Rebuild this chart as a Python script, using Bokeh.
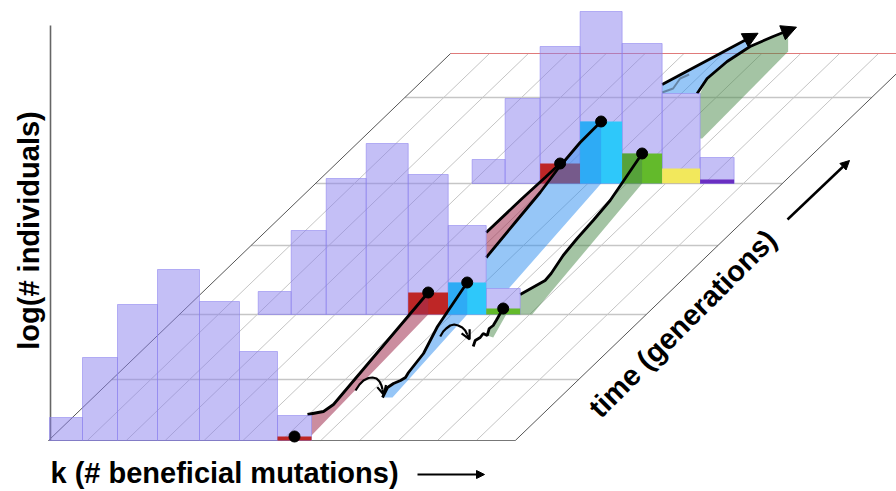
import math
from bokeh.plotting import figure
from bokeh.models import Range1d, Arrow, NormalHead, OpenHead
from bokeh.embed import file_html
from bokeh.resources import INLINE
from bokeh.core.properties import value

# ---------------- data ----------------
time_levels = [0, 61, 126, 195, 257, 343, 387]      # floor grid lines along time
gen_times = [0, 126, 257]                            # the three sampled generations
gen_first_k = [0, 2, 4]                              # lowest k class present
hist_gen0 = [23, 83, 136, 171, 139, 89, 25]          # log(# individuals) per k class
hist_gen1 = [23, 84, 136, 171, 140, 89, 26]
hist_gen2 = [24, 85, 137, 172, 140, 90, 26]
sub_k = [6, 7, 8, 9, 10]                             # lineages: red, cyan, green, yellow, purple
sub_gen0 = [4, 0, 0, 0, 0]
sub_gen1 = [22, 32, 6, 0, 0]
sub_gen2 = [20, 62, 30, 15, 4]
n_k = 12
x_label = "k (# beneficial mutations)"
y_label = "log(# individuals)"
t_label = "time (generations)"

hists = [hist_gen0, hist_gen1, hist_gen2]
subs = [sub_gen0, sub_gen1, sub_gen2]

# ---------------- style / geometry ----------------
W, H = 896, 491
X0, Y0 = 48, 440          # front-left corner of the floor
BIN = 38.9                # floor width of one k class
SKEW = 1.039              # oblique projection of time
BAR_EDGES = [0, 33, 68, 108, 150, 190, 228, 262]
SUB_COLORS = ["#be2626", "#2ec8fa", "#63ba2b", "#f2e85c", "#6a2fc2"]
LAV = "#8a80ee"
PINK, BLUE, GREEN = "#a03050", "#2e8ef0", "#4a8a4a"
FONT = value("Liberation Sans")
T_END = time_levels[-1]
LW = 2.8


def fx(k, t):
    return X0 + k * BIN + t * SKEW


def fy(t):
    return Y0 - t


def hist_geom(g):
    start = fx(gen_first_k[g], gen_times[g]) + 1
    return [start + e for e in BAR_EDGES], fy(gen_times[g])


def dot(g, s):
    e, b = hist_geom(g)
    i = sub_k[s] - gen_first_k[g]
    return ((e[i] + e[i + 1]) / 2, b - subs[g][s])


def add(pt, d):
    return (pt[0] + d[0], pt[1] + d[1])


def xs(pts):
    return [q[0] for q in pts]


def ys(pts):
    return [q[1] for q in pts]


p = figure(width=W, height=H, x_range=Range1d(0, W), y_range=Range1d(H, 0),
           toolbar_location=None, output_backend="svg",
           x_axis_location=None, y_axis_location=None, min_border=0,
           outline_line_color=None, background_fill_color="white",
           border_fill_color="white")
p.xgrid.grid_line_color = None
p.ygrid.grid_line_color = None

# ---------------- floor ----------------
p.multi_line([[fx(k, 0), fx(k, T_END)] for k in range(1, n_k)],
             [[fy(0), fy(T_END)] for k in range(1, n_k)],
             line_color="#bdbdbd", line_width=0.9)
p.multi_line([[fx(0, t), fx(n_k, t)] for t in time_levels[1:-1]],
             [[fy(t), fy(t)] for t in time_levels[1:-1]],
             line_color="#c6c6c6", line_width=1.3)
p.line([fx(0, T_END), fx(n_k, T_END)], [fy(T_END)] * 2, line_color="#e07a7a", line_width=1)
p.line([fx(0, 0), fx(n_k, 0)], [fy(0)] * 2, line_color="#777777", line_width=1.2)
p.line([fx(0, 0), fx(0, T_END)], [fy(0), fy(T_END)], line_color="#555555", line_width=1)
p.line([fx(n_k, 0), fx(n_k, T_END)], [fy(0), fy(T_END)], line_color="#555555", line_width=1)
p.line([X0 + 2, X0 + 2], [25, fy(0)], line_color="#666666", line_width=1.6)


def draw_hist(g):
    e, b = hist_geom(g)
    h = hists[g]
    p.quad(left=e[:-1], right=e[1:], bottom=[b] * len(h), top=[b - v for v in h],
           fill_color=LAV, fill_alpha=0.5, line_color=LAV, line_alpha=0.55, line_width=1)
    for s, v in enumerate(subs[g]):
        if v > 0:
            i = sub_k[s] - gen_first_k[g]
            p.quad(left=[e[i]], right=[e[i + 1]], bottom=[b], top=[b - v],
                   fill_color=SUB_COLORS[s], line_color=None)


def draw_dots(g, which):
    pts = [dot(g, s) for s in which]
    p.scatter(xs(pts), ys(pts), size=11, color="black")


def head(pt_from, pt_to, size, kind="normal", lw=2.5):
    dx, dy = pt_to[0] - pt_from[0], pt_to[1] - pt_from[1]
    n = math.hypot(dx, dy)
    tip = (pt_to[0] + dx / n * size * 0.6, pt_to[1] + dy / n * size * 0.6)
    if kind == "normal":
        hd = NormalHead(size=size, fill_color="black", line_color="black", line_width=1)
    else:
        hd = OpenHead(size=size, line_color="black", line_width=lw)
    p.add_layout(Arrow(end=hd, x_start=pt_to[0], y_start=pt_to[1], x_end=tip[0], y_end=tip[1],
                       line_color="black", line_width=lw))


e0, b0 = hist_geom(0)
e1, b1 = hist_geom(1)
e2, b2 = hist_geom(2)
R1, C1, G1 = dot(1, 0), dot(1, 1), dot(1, 2)
R2, C2, G2 = dot(2, 0), dot(2, 1), dot(2, 2)

# ---------------- beyond the last generation ----------------
cy_a = (e2[5], 84)
cy_b = add(C2, (149, -84))
gr_curve = [add(G2, d) for d in [(55, -60), (65, -75), (85, -92), (108, -107), (131, -117), (146, -123)]]
blue23 = [cy_a, cy_b, gr_curve[3], gr_curve[2], gr_curve[1], gr_curve[0], (e2[5], b2 - hists[2][5])]
p.patch(xs(blue23), ys(blue23), fill_color=BLUE, fill_alpha=0.5, line_color=None)
green23 = [(e2[6], b2 - hists[2][5])] + gr_curve[1:] + [add(gr_curve[-1], (0, 21)), (e2[6] + 2, 138), (e2[6], 138)]
p.patch(xs(green23), ys(green23), fill_color=GREEN, fill_alpha=0.5, line_color=None)
zig = [add((e2[5], b2 - hists[2][5]), d) for d in [(0, -1), (11, -5), (18, -15), (27, -19)]]
p.line(xs(zig), ys(zig), line_color="#5d7896", line_width=2, line_alpha=0.85)
p.line(xs([cy_a, cy_b]), ys([cy_a, cy_b]), line_color="black", line_width=LW)
head(cy_a, cy_b, 15)
p.line(xs(gr_curve), ys(gr_curve), line_color="black", line_width=LW)
head(gr_curve[-2], gr_curve[-1], 15)

# ---------------- generation 2 ----------------
draw_hist(2)

# generation 1 -> 2
red12 = [(e1[6], 232), add(R2, (-38, 35)), add(R2, (-15, 14)), R2]
cyan12 = [(e1[6], 257), add(C2, (-86, 101)), add(C2, (-61, 71)), add(C2, (-43, 47)),
          add(C2, (-21, 21)), C2]
green12 = [(e1[7], 294)] + [add(G2, d) for d in [(-97, 127), (-91, 120), (-79, 102), (-65, 85),
                                                 (-49, 67), (-32, 47), (-19, 28)]] + [G2]
blue12 = cyan12[:5] + [(e2[3], C2[1]), C2, (C2[0], b2), (C2[0] - 0.88 * (b1 - hists[1][6] - b2), b1 - hists[1][6]),
                       (e1[6], b1 - hists[1][6])]
p.patch(xs(blue12), ys(blue12), fill_color=BLUE, fill_alpha=0.5, line_color=None)
pink12 = red12 + cyan12[3::-1]
p.patch(xs(pink12), ys(pink12), fill_color=PINK, fill_alpha=0.55, line_color=None)
green12_poly = green12[:-2] + [(e2[4], b2), (e2[4], G2[1]), G2, (G2[0], b2),
                               (G2[0] - 0.84 * (b1 - b2), b1), (e1[7], b1)]
p.patch(xs(green12_poly), ys(green12_poly), fill_color=GREEN, fill_alpha=0.5, line_color=None)
for path in (red12, cyan12, green12):
    p.line(xs(path), ys(path), line_color="black", line_width=LW)
draw_dots(2, [0, 1, 2])

# ---------------- generation 1 ----------------
draw_hist(1)

# generation 0 -> 1
S = (e0[7], b0 - hists[0][6])
red01 = [add(S, (-4, -1)), add(S, (12, -4)), add(S, (22, -11)), R1]
pink01 = [add(S, (0, -1)), add(S, (12, -4)), add(S, (22, -11)), R1, (R1[0], b1), add(S, (0, 20))]
p.patch(xs(pink01), ys(pink01), fill_color=PINK, fill_alpha=0.55, line_color=None)

A = add(S, (44, -25))
hook01 = [add(A, d) for d in [(0, 0), (4, -6), (8, -10), (13, -12.5), (17, -13), (21, -12),
                              (24, -9), (26, -5), (27, -1)]]
C0 = add(A, (27, 7))
cyan01 = [add(C0, d) for d in [(0, 0), (5, -10), (11, -14), (18, -17), (23, -20), (26, -25),
                               (41, -44), (55, -71)]] + [C1]
qa, qb = cyan01[-2], cyan01[-1]
y_cross = qa[1] + (e1[5] - qa[0]) * (qb[1] - qa[1]) / (qb[0] - qa[0])
blue01 = cyan01[:-1] + [(e1[5], y_cross), (e1[5], C1[1]), C1, (C1[0], b1), add(C0, (10, 0))]
p.patch(xs(blue01), ys(blue01), fill_color=BLUE, fill_alpha=0.5, line_color=None)

B = add(R1, (12, 44))
hook12 = [add(B, d) for d in [(0, 0), (3, -5), (6, -8), (10, -11), (14, -12), (18, -11),
                              (22, -9), (25, -6), (27, -2)]]
Z0 = add(B, (33, 10))
green01 = [add(Z0, d) for d in [(0, 0), (2, -6), (7, -9), (10, -13), (14, -11), (16, -18),
                                (20, -21), (23, -26), (27, -33)]] + [G1]
green01_poly = green01[4:9] + [(G1[0] + 3, b1), add(Z0, (20, -9))]
p.patch(xs(green01_poly), ys(green01_poly), fill_color=GREEN, fill_alpha=0.5, line_color=None)

for path in (red01, cyan01, green01):
    p.line(xs(path), ys(path), line_color="black", line_width=LW)
for hk in (hook01, hook12):
    p.line(xs(hk), ys(hk), line_color="black", line_width=2.2)
    head(hk[-2], hk[-1], 9, kind="open", lw=2.2)
draw_dots(1, [0, 1, 2])

# ---------------- generation 0 ----------------
draw_hist(0)
draw_dots(0, [0])

# ---------------- labels & direction arrows ----------------
p.text(x=[28], y=[230], text=[y_label], angle=math.pi / 2, text_align="center",
       text_baseline="middle", text_font=FONT, text_font_style="bold",
       text_font_size="29px", text_color="black")
p.text(x=[X0 + 2], y=[472], text=[x_label], text_align="left", text_baseline="middle",
       text_font=FONT, text_font_style="bold", text_font_size="29px", text_color="black")
p.text(x=[682], y=[323], text=[t_label], angle=math.pi / 4, text_align="center",
       text_baseline="middle", text_font=FONT, text_font_style="bold",
       text_font_size="29px", text_color="black")
p.add_layout(Arrow(end=NormalHead(size=8, fill_color="black", line_color="black"),
                   x_start=417, y_start=474, x_end=484, y_end=474,
                   line_color="black", line_width=2))
p.add_layout(Arrow(end=NormalHead(size=9, fill_color="black", line_color="black"),
                   x_start=787, y_start=219, x_end=849, y_end=160,
                   line_color="black", line_width=2.5))

open("out.html", "w").write(file_html(p, INLINE))
